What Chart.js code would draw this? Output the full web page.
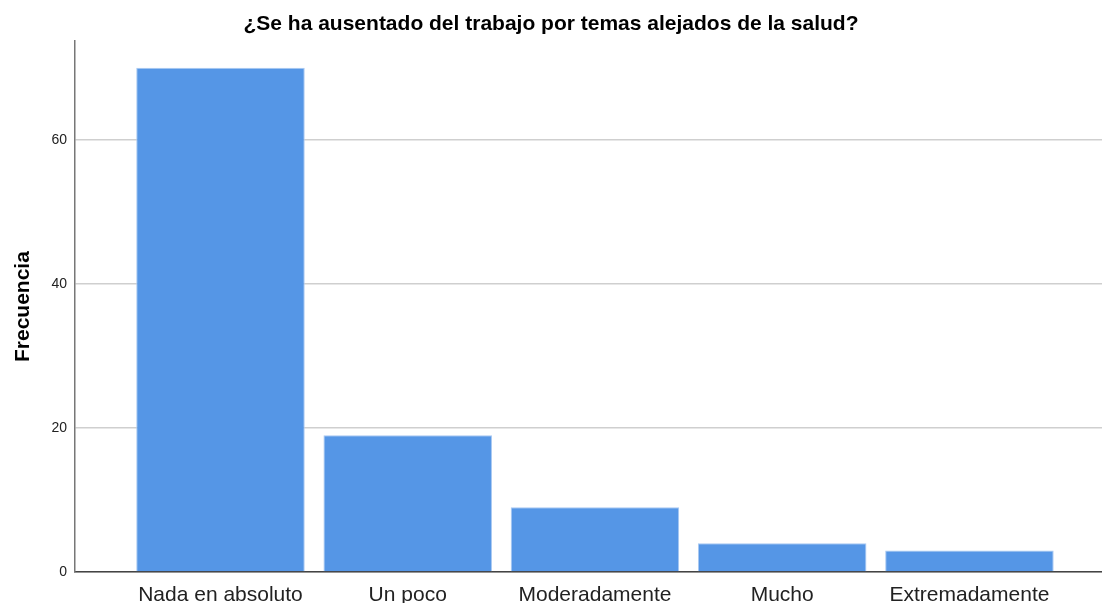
<!DOCTYPE html>
<html>
<head>
<meta charset="utf-8">
<script src="https://cdn.jsdelivr.net/npm/chart.js@4"></script>
<style>
  html, body { margin: 0; padding: 0; background: #fff; }
  #wrap { width: 1102px; height: 603px; }
</style>
</head>
<body>
<div id="wrap"><canvas id="myChart" width="1102" height="603"></canvas></div>
<script>
const categorias = ["Nada en absoluto", "Un poco", "Moderadamente", "Mucho", "Extremadamente"];
const frecuencias = [70, 19, 9, 4, 3];
const yTicks = [0, 20, 40, 60];

const ctx = document.getElementById("myChart").getContext("2d");
Chart.defaults.font.family = "'Liberation Sans', Arial, sans-serif";

const puntos = categorias.map((c, i) => ({ x: i, y: frecuencias[i] }));

const myChart = new Chart(ctx, {
  type: "bar",
  data: {
    datasets: [
      {
        label: "Frecuencia",
        data: puntos,
        backgroundColor: "#5596e6",
        borderColor: "#a9c9f2",
        borderWidth: 1,
        barPercentage: 0.9,
        categoryPercentage: 1,
      },
    ],
  },
  options: {
    responsive: false,
    animation: false,
    layout: { padding: 0 },
    plugins: {
      legend: { display: false },
      tooltip: { enabled: false },
      title: {
        display: true,
        text: "¿Se ha ausentado del trabajo por temas alejados de la salud?",
        color: "#000",
        font: { size: 21, weight: "bold" },
        padding: { top: 12, bottom: 4 },
      },
    },
    scales: {
      x: {
        type: "linear",
        offset: false,
        bounds: "data",
        min: -0.777,
        max: 4.708,
        grid: { display: false, drawTicks: false, offset: false },
        border: { color: "#444", width: 1.5 },
        afterBuildTicks: (scale) => {
          scale.ticks = categorias.map((c, i) => ({ value: i }));
        },
        afterFit: (scale) => {
          scale.height = 31;
        },
        ticks: {
          callback: (v) => categorias[v],
          color: "#222",
          font: { size: 21 },
          padding: 11,
          maxRotation: 0,
          autoSkip: false,
        },
      },
      y: {
        min: 0,
        max: 73.7,
        grid: { color: "#cfcfcf", lineWidth: 1.5, drawTicks: false },
        border: { color: "#777", width: 1.5 },
        afterBuildTicks: (scale) => {
          scale.ticks = yTicks.map((v) => ({ value: v }));
        },
        afterFit: (scale) => {
          scale.width = 75;
        },
        ticks: {
          color: "#222",
          font: { size: 14 },
          padding: 8,
        },
        title: {
          display: true,
          text: "Frecuencia",
          color: "#000",
          font: { size: 21, weight: "bold" },
          padding: { top: 11, bottom: 0 },
        },
      },
    },
  },
});
</script>
</body>
</html>
